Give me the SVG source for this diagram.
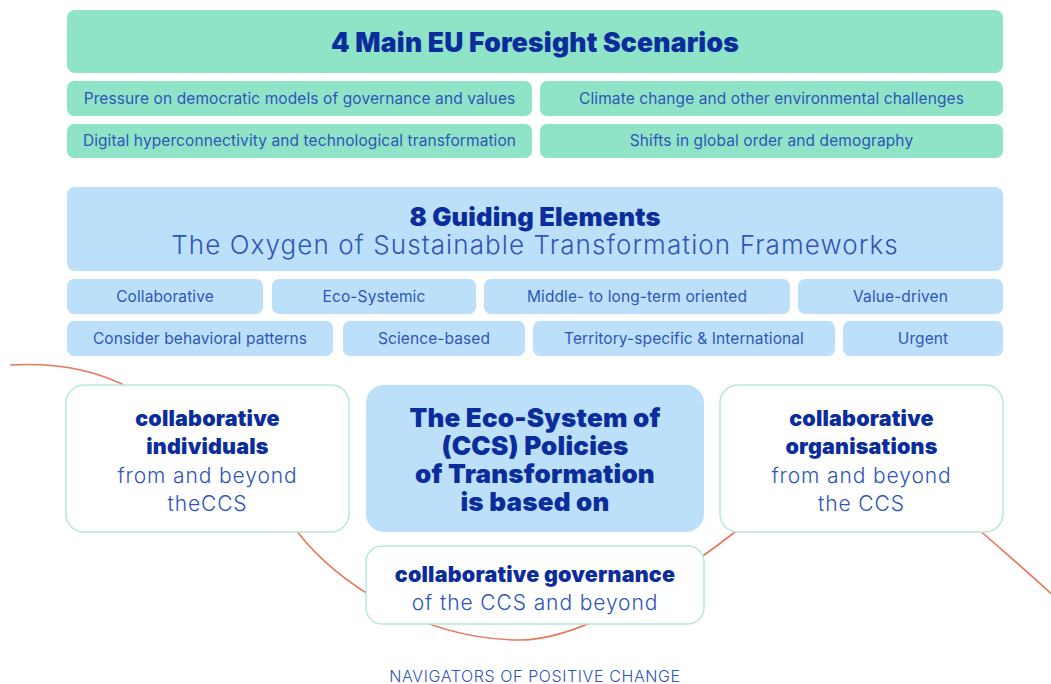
<svg xmlns="http://www.w3.org/2000/svg" width="1051" height="684" viewBox="0 0 1051 684">
<style>
.g{fill:#8fe3c7}
.b{fill:#bde0fa}
.w{fill:#ffffff;stroke:#b4ead6;stroke-width:1.5}
.h{font-family:Inter,"Noto Sans",sans-serif;font-weight:900;fill:#0b2d9c;text-anchor:middle;letter-spacing:0.2px}
.s{font-family:Inter,"Noto Sans",sans-serif;font-weight:400;fill:#2f55b8;text-anchor:middle;font-size:15.5px;letter-spacing:0.1px}
.l{font-family:Inter,"Noto Sans",sans-serif;font-weight:300;fill:#2f55b8;text-anchor:middle;letter-spacing:0.9px}
.c{fill:none;stroke:#e8775c;stroke-width:1.6}
</style>
<rect width="1051" height="684" fill="#ffffff"/>
<g id="connectors">
<path class="c" d="M10,365 C60,362 100,372 130,388 C160,404 260,490 300,535 C335,580 420,640 520,640 C580,640 660,590 735,532 C790,490 930,480 985,535 C1010,557 1035,578 1060,602"/>
</g>
<g id="scenarios">
<rect class="g" x="67" y="10" width="936" height="63" rx="8"/>
<text class="h" x="535" y="52" font-size="26.5">4 Main EU Foresight Scenarios</text>
</g>
<g id="s1"><rect class="g" x="67" y="81" width="465" height="35" rx="7"/><text class="s" x="299.5" y="104">Pressure on democratic models of governance and values</text></g>
<g id="s2"><rect class="g" x="540" y="81" width="463" height="35" rx="7"/><text class="s" x="771.5" y="104">Climate change and other environmental challenges</text></g>
<g id="s3"><rect class="g" x="67" y="124" width="465" height="34" rx="7"/><text class="s" x="299.5" y="146">Digital hyperconnectivity and technological transformation</text></g>
<g id="s4"><rect class="g" x="540" y="124" width="463" height="34" rx="7"/><text class="s" x="771.5" y="146">Shifts in global order and demography</text></g>
<g id="guiding">
<rect class="b" x="67" y="187" width="936" height="84" rx="8"/>
<text class="h" x="535" y="226" font-size="25.5">8 Guiding Elements</text>
<text class="l" x="535" y="254" font-size="26" style="letter-spacing:1.1px">The Oxygen of Sustainable Transformation Frameworks</text>
</g>
<g id="e1"><rect class="b" x="67" y="279" width="196" height="35" rx="7"/><text class="s" x="165" y="302">Collaborative</text></g>
<g id="e2"><rect class="b" x="272" y="279" width="204" height="35" rx="7"/><text class="s" x="374" y="302">Eco-Systemic</text></g>
<g id="e3"><rect class="b" x="484" y="279" width="306" height="35" rx="7"/><text class="s" x="637" y="302">Middle- to long-term oriented</text></g>
<g id="e4"><rect class="b" x="798" y="279" width="205" height="35" rx="7"/><text class="s" x="900.5" y="302">Value-driven</text></g>
<g id="e5"><rect class="b" x="67" y="321" width="266" height="35" rx="7"/><text class="s" x="200" y="344">Consider behavioral patterns</text></g>
<g id="e6"><rect class="b" x="343" y="321" width="182" height="35" rx="7"/><text class="s" x="434" y="344">Science-based</text></g>
<g id="e7"><rect class="b" x="533" y="321" width="302" height="35" rx="7"/><text class="s" x="684" y="344">Territory-specific &amp; International</text></g>
<g id="e8"><rect class="b" x="843" y="321" width="160" height="35" rx="7"/><text class="s" x="923" y="344">Urgent</text></g>
<g id="individuals">
<rect class="w" x="66" y="385" width="283" height="147" rx="18"/>
<text class="h" x="207.5" y="426" font-size="21.5">collaborative</text>
<text class="h" x="207.5" y="454" font-size="21.5">individuals</text>
<text class="l" x="207.5" y="483" font-size="21">from and beyond</text>
<text class="l" x="207.5" y="511" font-size="21">theCCS</text>
</g>
<g id="ecosystem">
<rect class="b" x="366" y="385" width="338" height="147" rx="18"/>
<text class="h" x="535" y="427" font-size="26">The Eco-System of</text>
<text class="h" x="535" y="455" font-size="26">(CCS) Policies</text>
<text class="h" x="535" y="483" font-size="26">of Transformation</text>
<text class="h" x="535" y="511" font-size="26">is based on</text>
</g>
<g id="organisations">
<rect class="w" x="720" y="385" width="283" height="147" rx="18"/>
<text class="h" x="861.5" y="426" font-size="21.5">collaborative</text>
<text class="h" x="861.5" y="454" font-size="21.5">organisations</text>
<text class="l" x="861.5" y="483" font-size="21">from and beyond</text>
<text class="l" x="861.5" y="511" font-size="21">the CCS</text>
</g>
<g id="governance">
<rect class="w" x="366" y="546" width="338" height="78" rx="16"/>
<text class="h" x="535" y="582" font-size="21.5">collaborative governance</text>
<text class="l" x="535" y="610" font-size="21">of the CCS and beyond</text>
</g>
<g id="footer">
<text class="l" x="535" y="682" font-size="16" style="letter-spacing:0.6px">NAVIGATORS OF POSITIVE CHANGE</text>
</g>
</svg>
